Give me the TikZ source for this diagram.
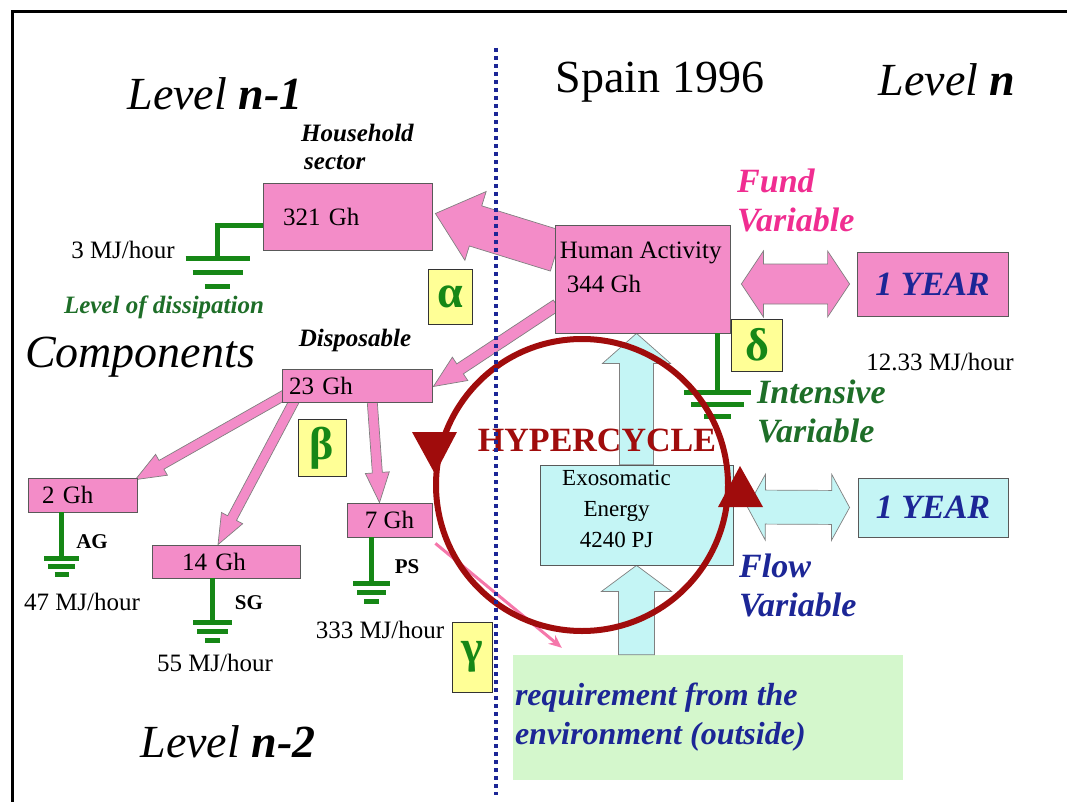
\documentclass[tikz,border=0pt]{standalone}
\usepackage{fontspec}
\setmainfont{Liberation Serif}
\usetikzlibrary{calc,arrows.meta}
\pgfdeclarelayer{bg}
\pgfsetlayers{bg,main}
\definecolor{boxpink}{RGB}{243,140,200}
\definecolor{fundpink}{RGB}{240,45,145}
\definecolor{flowcyan}{RGB}{196,245,245}
\definecolor{navy}{RGB}{28,38,150}
\definecolor{leafgreen}{RGB}{22,135,22}
\definecolor{txtgreen}{RGB}{30,110,40}
\definecolor{cycred}{RGB}{160,12,12}
\definecolor{envgreen}{RGB}{212,247,204}
\definecolor{greekbg}{RGB}{255,255,150}
% wide arrow: [style]{from}{to}{shaft half width}{head half width}{head length}
\newcommand\blockarrow[6][parr]{%
  \coordinate (ba-a) at #2; \coordinate (ba-b) at #3;
  \coordinate (ba-h) at ($(ba-b)!#6!(ba-a)$);
  \draw[#1]($(ba-a)!#4!90:(ba-b)$)--($(ba-h)!#4!90:(ba-b)$)--($(ba-h)!#5!90:(ba-b)$)
    --(ba-b)--($(ba-h)!#5!-90:(ba-b)$)--($(ba-h)!#4!-90:(ba-b)$)--($(ba-a)!#4!-90:(ba-b)$)--cycle;}
\newcommand\dblarrow[6][parr]{%
  \coordinate (da-a) at #2; \coordinate (da-b) at #3;
  \coordinate (da-p) at ($(da-a)!#6!(da-b)$); \coordinate (da-q) at ($(da-b)!#6!(da-a)$);
  \draw[#1](da-a)--($(da-p)!#5!90:(da-b)$)--($(da-p)!#4!90:(da-b)$)--($(da-q)!#4!-90:(da-a)$)
    --($(da-q)!#5!-90:(da-a)$)--(da-b)--($(da-q)!#5!90:(da-a)$)--($(da-q)!#4!90:(da-a)$)
    --($(da-p)!#4!-90:(da-b)$)--($(da-p)!#5!-90:(da-b)$)--cycle;}
% earth symbol under a stem end: {point}{width}{gap}
\newcommand\earth[3]{\draw[gnd]($#1+(-0.5*#2,0)$)--++(#2,0)($#1+(-0.39*#2,#3)$)--++(0.78*#2,0)
  ($#1+(-0.2*#2,2*#3)$)--++(0.4*#2,0);}

\begin{document}
\begin{tikzpicture}[x=1pt,y=-1pt,every node/.style={inner sep=0pt},
    big/.style={font=\fontsize{46}{50}\selectfont\itshape},
    lab/.style={font=\fontsize{25}{28}\selectfont},
    note/.style={font=\fontsize{25}{28}\selectfont\bfseries\itshape},
    var/.style={font=\fontsize{34}{39}\selectfont\bfseries\itshape,align=left,anchor=west},
    pbox/.style={draw=black!65,fill=boxpink,line width=0.8pt,font=\fontsize{25}{28}\selectfont},
    cbox/.style={draw=black!65,fill=flowcyan,line width=0.8pt},
    gbox/.style={draw=black!80,fill=greekbg,text=leafgreen,line width=0.8pt,
      font=\fontsize{46}{46}\selectfont\bfseries},
    gnd/.style={leafgreen,line width=5pt},
    parr/.style={draw=black!50,fill=boxpink,line width=0.7pt},
    carr/.style={draw=black!50,fill=flowcyan,line width=0.7pt},
    pline/.style={draw=boxpink!85!red,line width=3pt,-{Stealth[length=13pt,width=11pt]}}]
  \useasboundingbox(0,0)rectangle(1067,802);
  \draw[line width=3pt](12,802)--(12,12)--(1067,12);
  % titles
  \node[big](lvl1)at(215,94){Level \textbf{n-1}};
  \node[big](spain)at(660,82){\upshape Spain 1996};
  \node[big](lvln)at(947,80){Level \textbf{n}};
  \node[big](comp)at(140,357){Components};
  \node[big](lvl2)at(228,742){Level \textbf{n-2}};
  % level n-1
  \node[note,align=left,anchor=west](hhlab)at(301,147){Household\\\hspace{3pt}sector};
  \node[pbox,minimum height=67,text width=149,inner xsep=10,align=left](hh)at(347.5,216.5)
    {\hspace{10pt}321 Gh};
  \node[lab](hhmj)at(123,250){3 MJ/hour};
  \node[note,text=txtgreen](dissip)at(164,307){Level of dissipation};
  \node[note](displab)at(355,340){Disposable};
  \node[pbox,minimum height=33,text width=136,inner xsep=7,align=left](disp)at(357,385.5){23 Gh};
  % level n-2
  \node[pbox,minimum height=34,text width=97,inner xsep=6,align=left](ag)at(82.5,495)
    {\hspace{8pt}\raisebox{-5pt}{2 Gh}};
  \node[pbox,minimum height=33,text width=136,inner xsep=6,align=left](sg)at(226,561.5)
    {\hspace{24pt}\raisebox{-5pt}{14 Gh}};
  \node[pbox,minimum width=85,minimum height=34](ps)at(389.5,520){\raisebox{-5pt}{7 Gh}};
  \node[font=\fontsize{21}{24}\selectfont\bfseries](aglab)at(92,542){AG};
  \node[font=\fontsize{21}{24}\selectfont\bfseries](sglab)at(249,603){SG};
  \node[font=\fontsize{21}{24}\selectfont\bfseries](pslab)at(407,567){PS};
  \node[lab](agmj)at(82,602){47 MJ/hour};
  \node[lab](sgmj)at(215,663){55 MJ/hour};
  \node[lab](psmj)at(380,630){333 MJ/hour};
  % level n
  \node[pbox,minimum width=175,minimum height=108](ha)at(642.5,279){};
  \node[lab,align=left,anchor=north west](halab)at($(ha.north west)+(5,17)$)
    {Human Activity\\[6pt]\hspace{7pt}344 Gh};
  \node[pbox,minimum width=151,minimum height=64,text=navy,
    font=\fontsize{34}{36}\selectfont\bfseries\itshape](yrf)at(932.5,284){1 YEAR};
  \node[cbox,minimum width=193,minimum height=100](exo)at(636.5,515){};
  \node[lab,align=center,font=\fontsize{23}{31}\selectfont](exolab)at($(exo)+(-20,-6)$)
    {Exosomatic\\Energy\\4240 PJ};
  \node[cbox,minimum width=150,minimum height=59,text=navy,
    font=\fontsize{34}{36}\selectfont\bfseries\itshape](yrx)at(933,507.5){1 YEAR};
  \node[var,text=fundpink](fund)at(737,200){Fund\\Variable};
  \node[lab](hamj)at(940,362){12.33 MJ/hour};
  \node[var,text=txtgreen](intens)at(757,411){Intensive\\Variable};
  \node[var,text=navy](flow)at(739,585){Flow\\Variable};
  \node[gbox,minimum width=44,minimum height=55](alpha)at(450,297){α};
  \node[gbox,minimum width=48,minimum height=57](beta)at(322,448){β};
  \node[gbox,minimum width=40,minimum height=70](gamma)at(472,657){γ};
  \node[gbox,minimum width=51,minimum height=52](delta)at(757,345){δ};
  \begin{pgfonlayer}{bg}
    \node[fill=envgreen,minimum width=390,minimum height=125](env)at(708,717.5){};
    \blockarrow{($(ha.west)+(2,-28)$)}{($(hh.east)+(3,-3)$)}{21pt}{36pt}{42pt}
    \blockarrow{($(ha.west)+(2,26)$)}{($(disp.east)+(1,1)$)}{6pt}{14pt}{32pt}
    \blockarrow{($(disp.south west)+(4,-8)$)}{($(ag.north east)+(-2,2)$)}{5pt}{12pt}{30pt}
    \blockarrow{($(disp.south west)+(14,-4)$)}{($(sg.north)+(-8,0)$)}{5pt}{12pt}{30pt}
    \blockarrow{($(disp.south)+(15,-4)$)}{($(ps.north)+(-10,0)$)}{5pt}{12pt}{30pt}
    \blockarrow[carr]{(exo.south |- env.north)}{(exo.south)}{18pt}{35pt}{26pt}
    \blockarrow[carr]{(exo.north)}{(exo.north |- ha.south)}{17pt}{34pt}{30pt}
    \dblarrow{($(ha.east)+(11,5)$)}{($(yrf.west)+(-7,0)$)}{20pt}{33pt}{22pt}
    \dblarrow[carr]{($(exo.east)+(14,-8)$)}{($(yrx.west)+(-8,0)$)}{17pt}{33pt}{18pt}
    \draw[pline]($(ps.south east)+(3,6)$)--($(env.north west)+(49,-7)$);
  \end{pgfonlayer}
  \node[var,text=navy,font=\fontsize{32}{39}\selectfont\bfseries\itshape](envlab)
    at($(env.west)+(2,0)$){requirement from the\\environment (outside)};
  % dissipation stems
  \draw[gnd]($(hh.west)+(0,9)$)-|++(-45,33)coordinate(hh-e);\earth{(hh-e)}{64}{14}
  \draw[gnd]($(ag.south west)+(34,0)$)--++(0,46)coordinate(ag-e);\earth{(ag-e)}{35}{8}
  \draw[gnd]($(sg.south west)+(61,0)$)--++(0,44)coordinate(sg-e);\earth{(sg-e)}{39}{9}
  \draw[gnd]($(ps.south west)+(25,0)$)--++(0,46)coordinate(ps-e);\earth{(ps-e)}{37}{9}
  \draw[gnd]($(ha.south east)+(-13,0)$)--++(0,59)coordinate(ha-e);\earth{(ha-e)}{67}{12}
  % hypercycle
  \coordinate(cyc)at(582,485);
  \draw[cycred,line width=6pt](cyc)circle[radius=146];
  \fill[cycred](412,432)--(457,432)--(435,474)--cycle;
  \fill[cycred](718,507)--(763,507)--(740,466)--cycle;
  \node[text=cycred,font=\fontsize{34}{36}\selectfont\bfseries](hyp)at(597,440){HYPERCYCLE};
  \draw[navy,line width=4pt,dash pattern=on 4pt off 4pt](496,48)--(496,795);
\end{tikzpicture}
\end{document}
